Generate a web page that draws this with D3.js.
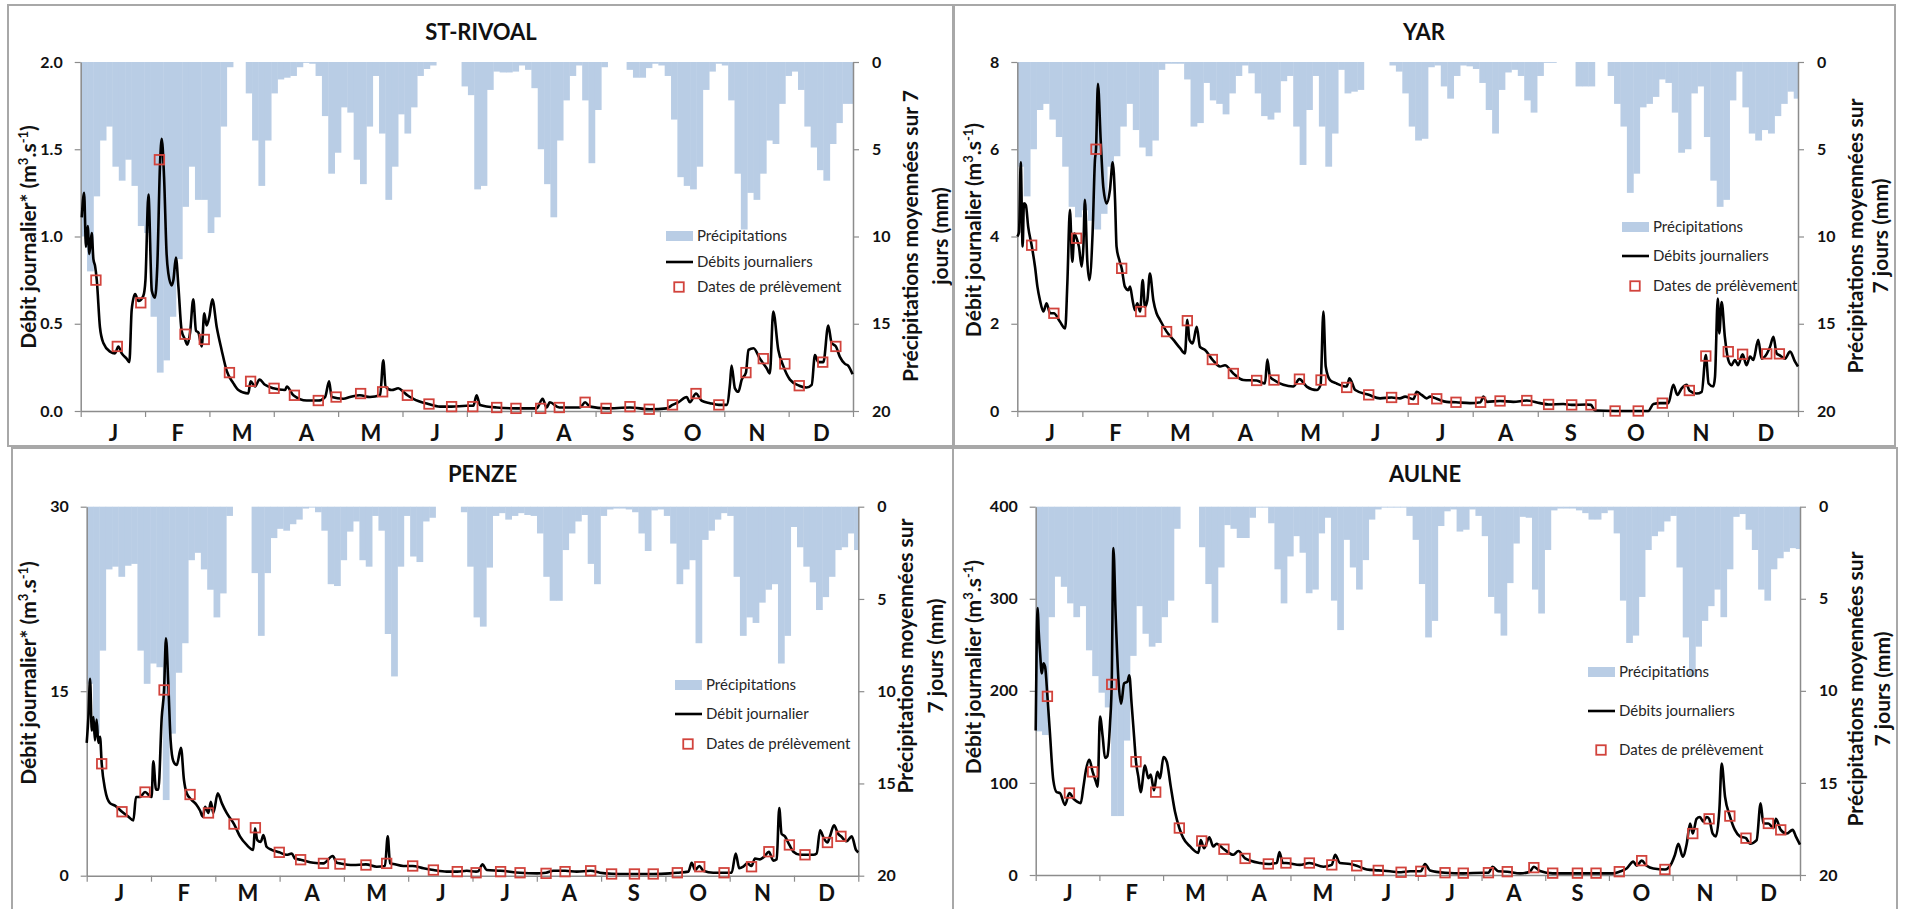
<!DOCTYPE html>
<html><head><meta charset="utf-8">
<script src="https://cdn.jsdelivr.net/npm/d3@7"></script>
<style>
body{margin:0;background:#fff}
svg{display:block}
text{font-family:Lato,"Open Sans",sans-serif}
</style>
</head><body>
<svg id="c" width="1905" height="909"></svg>
<script>
// ---------------- DATA ----------------
const months = ["J","F","M","A","M","J","J","A","S","O","N","D"];
const precipTicks = [0,5,10,15,20];
const binDays = 3; // precipitation values are given per 3-day bin, starting Jan 1

// ST-RIVOAL
const rivoalPrecip = [10,12,7.7,4.5,3.7,6,6.8,5.6,7.1,9.4,9.8,14.6,17.8,17.1,14.6,11.3,8.3,6,7.9,7.9,
9.8,8.9,3.7,0.3,0,0,1.8,4.5,7.1,4.5,1.8,1.0,0.9,0.8,0.3,0.05,0.1,0.8,3.1,6.4,
5.2,2.6,2.9,5.6,7,3.7,0.8,4.1,7.9,6,3,4.1,2.6,0.8,0.4,0.2,0,0,0,0,
1.4,1.9,7.3,7.1,1.6,0.55,0.6,0.6,0.55,0.2,0.45,1.5,5.0,7.0,8.9,4.5,2.2,0.8,0.2,2.2,
5.8,2.75,0.3,0,0,0,0.45,0.9,0.9,0.35,0.1,0.2,0.8,3.3,6.6,7.1,7.3,6.0,1.6,0.55,
0.1,0.2,2.2,6.4,9.6,7.5,7.9,6.4,4.5,4.7,2.4,0.8,0.55,1.6,3.7,4.9,6.2,6.8,4.7,3.5,2.4,2.4];
const rivoalFlowDay = [0.5,1.6,2.5,3.3,4.1,5.2,6,6.8,7.6,9.1,10.7,13.9,16.2,17.8,19.4,21.7,23,24.1,25.7,27.3,29.6,30.6,32,33.6,35.1,36.2,37.5,38.3,39.4,40.6,41.4,43,43.8,45,46.2,47.7,49.3,50.4,51.7,53.2,54.5,55.6,57.2,58.4,59.5,60.8,62.2,64.3,66.6,69,72.1,74.5,79.2,80.3,82.4,84.5,87.1,91,96.6,97.4,100.5,106.8,112.3,115.5,117.4,118.6,124.1,127.3,132,136.7,141.5,143,144.1,147,150.1,152.5,154.4,157.2,164.3,169.8,175.3,182.4,185.6,187.1,188.7,196.6,206.1,215.5,218.3,220.2,221.7,226.2,236,238.4,240.7,248.3,259.6,269,276.9,279.7,282.4,286.4,287.9,290.8,293.4,297.4,301.6,305.3,306.9,307.6,309.2,310.8,312.4,314.4,315.6,318,321,324.2,325.7,327.3,329.7,332,335.2,339.6,343.1,345.5,347,348.6,351,353.3,354.9,356.9,358.8,361.2,362.7,364.8];
const rivoalFlow = [1.11,1.25,0.94,1.06,0.90,1.02,0.87,0.83,0.75,0.48,0.39,0.34,0.33,0.37,0.33,0.30,0.28,0.58,0.67,0.63,0.66,0.75,1.24,0.69,0.65,0.83,1.42,1.56,1.34,0.90,0.79,0.72,0.75,0.88,0.71,0.46,0.41,0.38,0.45,0.64,0.46,0.45,0.37,0.56,0.49,0.54,0.64,0.48,0.35,0.23,0.16,0.12,0.10,0.17,0.14,0.18,0.15,0.13,0.12,0.14,0.09,0.06,0.06,0.08,0.17,0.08,0.07,0.08,0.09,0.08,0.09,0.29,0.14,0.12,0.13,0.11,0.09,0.07,0.04,0.025,0.025,0.03,0.03,0.09,0.035,0.02,0.015,0.015,0.07,0.02,0.05,0.02,0.02,0.05,0.025,0.015,0.02,0.01,0.015,0.035,0.05,0.08,0.05,0.10,0.06,0.045,0.035,0.035,0.16,0.26,0.13,0.11,0.18,0.22,0.35,0.36,0.30,0.245,0.215,0.57,0.35,0.26,0.18,0.145,0.135,0.15,0.32,0.28,0.28,0.49,0.39,0.37,0.31,0.27,0.26,0.21];
const rivoalSampleDay = [7.2,17.3,28.4,37.2,49.3,58.4,70.3,80.3,91.4,101,112.3,120.7,132.3,142.7,154.4,164.6,175.3,185.3,196.6,205.7,217.4,226.2,238.4,248.3,259.6,268.7,279.7,290.8,301.6,314.4,322.6,332.8,339.6,350.7,356.9];
const rivoalSample = [0.75,0.37,0.62,1.44,0.44,0.41,0.22,0.17,0.13,0.09,0.06,0.08,0.10,0.11,0.09,0.04,0.025,0.025,0.02,0.015,0.015,0.02,0.05,0.015,0.025,0.01,0.035,0.10,0.035,0.22,0.30,0.27,0.145,0.28,0.37];

// YAR
const yarPrecip = [6.0,7.7,5.0,2.75,2.4,3.3,4.3,6.0,8.3,8.9,8.5,9.1,9.6,8.7,6.0,5.4,3.7,2.4,3.9,4.9,
5.4,4.5,0.45,0.1,0.1,0.1,1.0,3.7,3.5,1.2,2.2,2.4,3.0,1.8,0.8,0.2,0.65,1.8,3.1,3.3,
2.9,1.1,0.8,3.7,5.9,2.75,0.8,3.7,6.0,4.1,0.45,1.8,1.7,1.6,0,0,0,0,0.2,0.55,
1.8,3.7,4.5,4.4,0.3,0.2,1.4,2.1,0.8,0.2,0.25,0.4,1.2,2.75,4.1,1.6,0.6,0.45,0.8,2.2,
2.9,0.8,0.05,0.05,0,0,0,1.4,1.4,1.4,0,0,0.8,2.4,3.7,7.5,6.4,2.6,2.4,2.0,
1.0,1.2,2.9,5.2,5.0,1.8,1.4,4.3,6.8,8.3,7.9,2.2,0.55,2.6,4.1,4.5,3.9,4.1,3.1,2.4,1.7,2.1];
const yarFlowDay = [0,0.8,1.6,2.5,3.1,4,5.1,6.7,8.3,9.4,10.6,12.2,13.7,15.3,17.1,19.9,22.4,23.4,24.6,25.7,26.7,27.7,28.8,30.1,30.9,31.6,32.7,33.7,35.2,36.3,36.8,37.7,39,40.2,41.8,43.3,44.6,45.7,46.4,47.7,48.8,50.3,51.9,52.7,53.9,55,56.1,57.4,58.6,59.7,60.8,62,63.6,65.1,66.7,69.8,73,76.1,78.4,79.5,80.5,82,83.9,85.4,87.8,91.2,94.8,97.1,101,105.7,111.9,115.8,116.9,118.1,120,124.4,129,131.9,135.3,140,141.8,143.1,144.2,146.2,149.3,154,155.3,158,164.3,169.6,175,178.9,181.3,185.2,186.7,189,191.4,193,196.1,200.7,205.1,211.6,216.6,217.9,219.5,225.7,231.9,238.2,244.4,248.4,255.3,259.2,266.2,268.2,270.1,279.5,290.3,295,297.4,300.5,304.4,306.7,308.6,310.6,313,314.2,317.6,320,321.9,323.2,325.4,326.2,327.5,328.2,329.3,330.8,332.4,333.9,335.5,337,339.1,340.9,342.6,344.1,346.4,348,350.4,351.9,353.5,355,356.3,358.9,361.3,363.6,365];
const yarFlow = [4.0,4.1,5.7,3.77,4.76,4.72,4.22,3.8,3.3,2.85,2.54,2.28,2.47,2.24,2.24,2.05,1.89,2.93,4.61,3.42,4.07,3.96,3.77,3.31,3.77,4.84,3.46,3.0,4.07,5.75,6.0,7.5,6.2,5.14,4.76,5.06,5.7,4.84,3.77,3.46,3.27,2.85,2.77,2.85,2.54,2.31,2.47,2.28,3.0,2.39,2.54,3.15,2.54,2.24,2.09,1.82,1.63,1.44,1.32,2.09,1.63,1.55,1.93,1.47,1.4,1.18,1.02,1.05,0.86,0.71,0.70,0.63,1.18,0.79,0.71,0.6,0.56,0.73,0.56,0.48,0.6,2.28,1.02,0.71,0.63,0.56,0.75,0.48,0.37,0.29,0.31,0.29,0.33,0.27,0.44,0.37,0.29,0.33,0.28,0.21,0.2,0.18,0.2,0.33,0.21,0.23,0.21,0.24,0.18,0.15,0.16,0.14,0.15,0.14,0.01,0.0,0.0,0.0,0.16,0.18,0.18,0.6,0.37,0.52,0.6,0.47,0.4,0.44,1.28,0.63,0.56,0.79,2.58,1.78,2.5,1.7,1.17,1.05,1.17,1.05,1.3,1.05,1.25,1.17,1.63,1.2,1.31,1.47,1.7,1.32,1.28,1.2,1.36,1.13,1.02];
const yarSampleDay = [6.7,17.1,27.7,36.8,48.8,57.7,69.8,79.5,91.2,101,111.9,120,131.9,142,154,164.3,175,185.2,196.1,205.1,216.6,225.7,238.2,248.4,259.2,268.2,279.5,290.3,301.6,314.2,321.9,332.4,339.1,350.4,356.3];
const yarSample = [3.8,2.24,3.96,6.0,3.27,2.28,1.82,2.07,1.18,0.86,0.70,0.71,0.73,0.71,0.54,0.37,0.31,0.27,0.28,0.2,0.2,0.23,0.24,0.15,0.14,0.14,0.0,0.0,0.18,0.47,1.26,1.36,1.3,1.31,1.31];

// PENZE
const penzePrecip = [9.6,12.3,7.8,3.4,3.25,3.8,3.2,3.1,7.8,9.6,8.5,8.7,15.9,12.3,9.0,7.4,2.9,2.5,3.4,4.5,
6.0,4.7,0.5,0,0,0,3.6,7.0,3.6,1.7,1.2,1.3,0.95,0.7,0.1,0.05,0.3,1.3,4.2,4.3,
2.9,1.35,0.8,2.9,3.25,0.5,1.3,6.9,9.2,3.25,0.5,2.7,3.0,0.8,0.6,0,0,0,0,0.3,
3.25,6.0,6.5,3.3,0.5,0.35,0.7,0.5,0.35,0.45,0.5,1.45,3.8,5.1,5.1,2.35,1.45,0.8,0.45,3.1,
4.2,0.5,0.15,0.1,0.1,0.15,0.3,1.45,2.4,0.2,0.15,0.5,2.0,4.2,3.4,2.9,7.4,1.8,1.3,0.7,
0.35,0.5,3.8,7.0,6.0,6.3,5.2,4.5,4.2,8.5,7.0,1.1,2.2,3.25,4.1,5.6,4.9,3.8,2.35,2.2,1.45,2.35];
const penzeFlowDay = [0,0.8,1.6,2.4,3.2,3.9,4.7,5.5,6.3,7.1,8.7,11,13.4,16.7,19.7,22.1,23.3,25.2,27.6,30.7,31.5,32.8,33.9,35.5,36.6,37.5,38.6,39.7,41,42.6,44.6,46,47.3,49.7,52,53.6,54.9,56,57.6,58.7,59.9,62,63.9,66.2,69.7,72.5,75.7,78.8,79.6,80.7,82.3,83.6,85.1,87.5,91.1,94.6,97,98.5,101.2,107.2,112,116.4,118.3,119.8,126,132.1,137.2,141.1,142.4,143.5,145.1,149.8,154.2,159.3,164,170.3,175.3,179.8,184.2,185.3,187.3,189.2,195.8,205,213,217.3,220.7,226.3,231.8,238.4,242.8,248.3,255.4,259.1,268,275.9,279.4,284.6,286.2,287.8,289.8,291.7,296.4,301.5,305.1,307,308.7,310.6,312.5,314.5,316.1,318.5,320.5,322.7,324.8,326.4,327.6,328.7,330.3,332.4,334.3,337.5,339.8,343.8,345.3,346.9,348.8,350.4,351.6,353.5,355.5,356.8,359.5,361.9,363.9,365];
const penzeFlow = [10.8,12.9,16.0,11.8,12.9,11.0,12.7,10.8,11.3,9.1,7.0,5.9,5.7,5.2,4.8,4.5,6.4,6.4,6.8,6.4,9.3,7.0,7.0,12.9,15.1,19.3,15.6,11.0,9.3,9.0,10.4,7.8,6.7,6.15,5.75,5.3,4.8,5.6,5.1,6.0,5.1,6.7,5.9,5.1,4.2,3.2,2.5,2.1,3.85,2.9,2.75,3.3,2.35,2.1,1.9,1.7,1.8,1.4,1.3,1.05,1.0,1.6,1.05,1.0,0.87,0.92,0.73,0.79,3.2,1.0,0.95,0.79,0.79,0.6,0.46,0.33,0.33,0.4,0.33,0.38,0.92,0.46,0.4,0.24,0.19,0.24,0.4,0.4,0.33,0.4,0.24,0.16,0.14,0.14,0.14,0.19,0.24,0.33,1.05,0.46,0.79,0.4,0.24,0.24,0.24,1.8,0.6,0.73,1.0,0.79,1.4,1.33,1.55,1.95,1.22,1.33,5.5,3.4,3.2,2.5,1.95,1.7,1.7,1.7,1.8,3.7,3.0,2.7,3.2,4.1,3.4,3.2,2.8,3.2,2.1,1.9];
const penzeSampleDay = [7.1,16.7,27.6,36.6,48.9,57.6,69.7,79.8,91.1,101.2,112,119.8,132.1,141.9,154.2,164,175.3,184.2,195.8,205,217.3,226.3,238.4,248.3,259.1,268,279.4,290,301.5,314.5,322.7,332.4,339.8,350.4,356.8];
const penzeSample = [9.1,5.2,6.8,15.1,6.6,5.1,4.2,3.9,1.9,1.3,1.0,0.95,0.87,1.0,0.79,0.46,0.33,0.24,0.33,0.24,0.19,0.33,0.4,0.14,0.14,0.14,0.24,0.73,0.24,0.73,1.95,2.5,1.7,2.7,3.2];

// AULNE
const aulnePrecip = [12.2,12.4,6.0,3.8,4.35,5.25,6.0,5.4,7.8,9.2,10.1,10.9,16.8,16.8,12.7,8.1,5.4,6.9,7.6,7.4,
6.0,5.1,1.2,0,0,0,2.2,4.2,6.3,3.3,1.0,1.2,1.7,1.7,0.6,0.05,0.05,0.9,3.4,5.25,
2.7,1.6,2.5,4.7,4.5,1.45,0.6,5.1,6.7,1.8,3.3,4.5,2.9,0.7,0.15,0.05,0.05,0.05,0.05,0.5,
1.8,4.2,7.1,6.2,1.05,0.25,0.15,1.35,1.25,0.15,0.5,1.6,4.9,5.8,7.0,4.15,2.0,0.55,0.6,4.5,
5.8,2.35,0.2,0.1,0.1,0.1,0.2,0.35,0.7,0.7,0.35,0.2,1.45,5.1,7.4,7.0,4.9,2.35,1.6,1.35,
0.8,0.5,3.3,7.1,9.2,7.6,6.2,5.4,4.5,6.0,3.4,0.55,0.4,1.25,2.35,4.5,5.1,3.4,2.8,2.45,2.25,2.3];
const aulneFlowDay = [0,0.5,1,1.4,2.1,2.9,3.7,4.5,5.6,6.8,8.4,10,11.6,14,16.1,18,19.6,21.5,22.8,24,25.6,27.2,28.8,29.6,30.7,32,33.1,34.2,35.5,36.3,37.1,38.2,39.5,40.8,42.2,43.8,44.7,45.8,47,47.9,49,50.1,52.2,53.8,54.9,56.5,58.1,59.4,61,62.6,64.5,66.5,68.6,70.5,73.7,77.7,78.8,80.4,82.9,84.8,86.4,89.9,94.4,96.8,100,107.1,111.1,115.1,116.4,118,119.5,126.2,130.7,137.4,141.4,143,145.3,150.1,153.3,158.1,163.6,169.2,174.5,178.8,183.9,185.9,188.3,195.5,204.2,213.8,216.2,218.2,220.9,225.2,231.3,236,237.9,240.8,246.9,258.7,267.6,275.8,278.7,282.2,285.4,287,289.4,291.8,295,300.5,303.7,305.3,306.9,309,310.9,312.5,313.8,315.6,317.2,318.8,320.4,321.6,323.3,324.8,326.5,327.6,329.2,331.5,333.9,336.3,339.2,341.1,344.3,346.2,347.5,349.9,352.3,353.5,355.8,358.6,361.5,363,365];
const aulneFlow = [157,259,290,266,241,219,230,226,194,154,103,90,89,76,89,83,80,78,96,114,125,112,101,96,172,150,127,129,165,208,355,281,212,186,208,210,217,186,150,123,107,90,119,105,109,92,112,105,128,123,96,69,51,40,31,24,38,29,41,31,34,28,22,26,18,13,12,13,25,13,13,11,13,9,11,22,13,12,10,6,5,4,3,4,4,12,5,2.5,1.8,2.5,2.5,9,4,3.6,1.8,3.6,9,4.3,1.8,1.8,1.8,1.8,3.6,7,14.5,10,15.6,10,7,6,13,22,34,20,34,56,45,61,63,58,63,61,45,42,71,121,85,64,49,42,40,34,38,78,56,56,51,61,49,45,49,42,33];
const aulneSampleDay = [5.6,16.1,27.2,36.3,47.9,57.3,68.6,79.3,89.9,100,111.1,119.5,130.7,141.4,153.3,163.6,174.5,183.9,195.5,204.2,216.2,225.2,237.9,246.9,258.7,267.6,278.7,289.4,300.5,313.8,321.6,331.5,339.2,349.9,355.8];
const aulneSample = [194,89,112,207,123,90,51,37,28,18,12,13,13,11,10,5,3,4,2.5,2,2.5,3.6,8,2,2,2,3.6,15.6,6,45,61,64,40,56,49];

// ---------------- CHART ----------------
const svg = d3.select("#c");
const BLUE = "#b9cde5", RED = "#d2433c", AX = "#8c8c8c", TXT = "#111";

const panels = [
 {title:"ST-RIVOAL", precip:rivoalPrecip, fDay:rivoalFlowDay, flow:rivoalFlow, sDay:rivoalSampleDay, samp:rivoalSample,
  qTicks:[0,0.5,1,1.5,2], qFmt:d3.format(".1f"), yLabel:"Débit journalier*", rLines:["Précipitations moyennées sur 7","jours (mm)"],
  lgFlow:"Débits journaliers", mPad:14,
  frame:[8,5,954,446], plot:[80.7,62,853,411], titleY:40, lX:28, lY:237, rX:[910,940], rY:236, lg:[666,236,262,287]},
 {title:"YAR", precip:yarPrecip, fDay:yarFlowDay, flow:yarFlow, sDay:yarSampleDay, samp:yarSample,
  qTicks:[0,2,4,6,8], qFmt:d3.format("d"), yLabel:"Débit journalier", rLines:["Précipitations moyennées sur","7 jours (mm)"],
  lgFlow:"Débits journaliers", mPad:14,
  frame:[953,5,1895,446], plot:[1017.3,62,1798,411], titleY:40, lX:973, lY:230, rX:[1855,1880], rY:236, lg:[1622,227,256,286]},
 {title:"PENZE", precip:penzePrecip, fDay:penzeFlowDay, flow:penzeFlow, sDay:penzeSampleDay, samp:penzeSample,
  qTicks:[0,15,30], qFmt:d3.format("d"), yLabel:"Débit journalier*", rLines:["Précipitations moyennées sur","7 jours (mm)"],
  lgFlow:"Débit journalier", mPad:10,
  frame:[12,448,953,915], plot:[86.7,506.7,858.3,875.7], titleY:482, lX:28, lY:673, rX:[905,935], rY:656, lg:[675,685,714,744]},
 {title:"AULNE", precip:aulnePrecip, fDay:aulneFlowDay, flow:aulneFlow, sDay:aulneSampleDay, samp:aulneSample,
  qTicks:[0,100,200,300,400], qFmt:d3.format("d"), yLabel:"Débit journalier", rLines:["Précipitations moyennées sur","7 jours (mm)"],
  lgFlow:"Débits journaliers", mPad:10,
  frame:[953,448,1897,915], plot:[1035.7,506.7,1800,875], titleY:482, lX:973, lY:667, rX:[1855,1882], rY:689, lg:[1588,672,711,750]}
];

function styleAxis(g){
  g.select(".domain").attr("stroke",AX).attr("stroke-width",1.5);
  g.selectAll(".tick line").attr("stroke",AX).attr("stroke-width",1.2);
  g.selectAll(".tick text").attr("fill",TXT).attr("font-family","Lato").attr("font-weight",700);
}

panels.forEach(p=>{
  const [x0,y0,x1,y1] = p.plot;
  const g = svg.append("g");
  // frame
  const [fx0,fy0,fx1,fy1] = p.frame;
  g.append("rect").attr("x",fx0).attr("y",fy0).attr("width",fx1-fx0).attr("height",fy1-fy0)
    .attr("fill","none").attr("stroke","#a8a8a8").attr("stroke-width",2);

  const xs = d3.scaleLinear().domain([0,365]).range([x0,x1]);
  const yq = d3.scaleLinear().domain([0,p.qTicks[p.qTicks.length-1]]).range([y1,y0]);
  const yp = d3.scaleLinear().domain([0,20]).range([y0,y1]);

  // precipitation bars (hanging from top)
  g.append("g").selectAll("rect").data(p.precip).join("rect")
    .attr("x",(d,i)=>xs(i*binDays))
    .attr("width",(d,i)=>Math.max(0,xs(Math.min(365,(i+1)*binDays))-xs(i*binDays)+0.4))
    .attr("y",yp(0))
    .attr("height",d=>yp(d)-yp(0))
    .attr("fill",BLUE);

  // axes
  const la = g.append("g").attr("transform",`translate(${x0},0)`)
    .call(d3.axisLeft(yq).tickValues(p.qTicks).tickFormat(p.qFmt).tickSize(6).tickSizeOuter(0).tickPadding(12));
  la.selectAll(".tick text").attr("font-size",16);
  styleAxis(la);
  const ra = g.append("g").attr("transform",`translate(${x1},0)`)
    .call(d3.axisRight(yp).tickValues(precipTicks).tickSize(6).tickSizeOuter(0).tickPadding(13));
  ra.selectAll(".tick text").attr("font-size",16);
  styleAxis(ra);
  const mTicks = d3.range(13).map(i=>i*365/12);
  const ba = g.append("g").attr("transform",`translate(0,${y1})`)
    .call(d3.axisBottom(xs).tickValues(mTicks).tickFormat("").tickSize(6).tickSizeOuter(0));
  styleAxis(ba);
  const mCenters = d3.range(12).map(i=>(i+0.5)*365/12);
  const bl = g.append("g").attr("transform",`translate(0,${y1})`)
    .call(d3.axisBottom(xs).tickValues(mCenters).tickFormat((d,i)=>months[i]).tickSize(0).tickPadding(p.mPad));
  bl.select(".domain").remove();
  bl.selectAll(".tick text").attr("font-size",22);
  styleAxis(bl);

  // discharge line
  const line = d3.line().x(i=>xs(p.fDay[i])).y(i=>yq(p.flow[i])).curve(d3.curveMonotoneX);
  g.append("path").attr("d",line(d3.range(p.flow.length)))
    .attr("fill","none").attr("stroke","#000").attr("stroke-width",2.6).attr("stroke-linejoin","round");

  // sampling dates
  const S = 9.5;
  g.append("g").selectAll("rect").data(p.samp).join("rect")
    .attr("x",(d,i)=>xs(p.sDay[i])-S/2).attr("y",d=>yq(d)-S/2)
    .attr("width",S).attr("height",S)
    .attr("fill","none").attr("stroke",RED).attr("stroke-width",1.8);

  // title
  g.append("text").attr("x",(fx0+fx1)/2).attr("y",p.titleY).attr("text-anchor","middle")
    .attr("font-size",22).attr("font-weight",700).attr("fill",TXT).text(p.title);

  // left y title with superscripts
  const fs = 21;
  const lt = g.append("text").attr("transform",`translate(${p.lX+fs*0.36},${p.lY}) rotate(-90)`)
    .attr("text-anchor","middle").attr("font-size",fs).attr("font-weight",700).attr("fill",TXT);
  lt.append("tspan").text(p.yLabel+" (m");
  lt.append("tspan").attr("font-size",13).attr("dy",-8).text("3");
  lt.append("tspan").attr("dy",8).text(".s");
  lt.append("tspan").attr("font-size",13).attr("dy",-8).text("-1");
  lt.append("tspan").attr("dy",8).text(")");

  // right y title (two lines)
  p.rLines.forEach((s,j)=>{
    g.append("text").attr("transform",`translate(${p.rX[j]+fs*0.36},${p.rY}) rotate(-90)`)
      .attr("text-anchor","middle").attr("font-size",fs).attr("font-weight",700).attr("fill",TXT).text(s);
  });

  // legend
  const [lx,ly1,ly2,ly3] = p.lg;
  g.append("rect").attr("x",lx).attr("y",ly1-5).attr("width",27).attr("height",10).attr("fill",BLUE);
  g.append("line").attr("x1",lx).attr("x2",lx+27).attr("y1",ly2).attr("y2",ly2).attr("stroke","#000").attr("stroke-width",2.6);
  g.append("rect").attr("x",lx+13-S/2).attr("y",ly3-S/2).attr("width",S).attr("height",S)
    .attr("fill","none").attr("stroke",RED).attr("stroke-width",1.8);
  [["Précipitations",ly1],[p.lgFlow,ly2],["Dates de prélèvement",ly3]].forEach(([t,yy])=>{
    g.append("text").attr("x",lx+31).attr("y",yy).attr("dy","0.35em").attr("font-size",15)
      .attr("fill","#262626").text(t);
  });
});
</script>
</body></html>
